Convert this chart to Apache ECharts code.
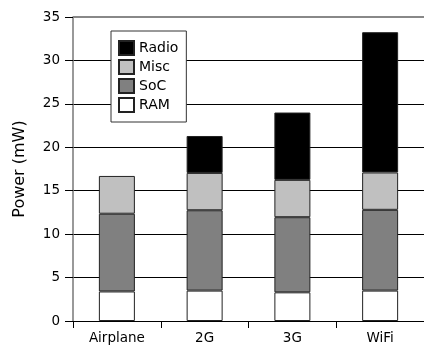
<!DOCTYPE html>
<html><head><meta charset="utf-8">
<script src="https://cdn.jsdelivr.net/npm/echarts@6/dist/echarts.min.js"></script>
<style>html,body{margin:0;padding:0;background:#fff}#c{width:424px;height:345px}</style>
</head><body><div id="c"></div>
<script>
const categories = ['Airplane', '2G', '3G', 'WiFi'];
const ram   = [3.4, 3.5, 3.3, 3.5];
const soc   = [8.95, 9.25, 8.65, 9.3];
const misc  = [4.35, 4.3, 4.3, 4.3];
const radio = [null, 4.25, 7.75, 16.15];
const yTicks = [0, 5, 10, 15, 20, 25, 30, 35];
const yMax = 35;

const font = 'DejaVu Sans';
const chart = echarts.init(document.getElementById('c'), null, {renderer: 'canvas'});
function s(name, data, color) {
  return {name, type: 'bar', stack: 'p', data, barWidth: 36,
    itemStyle: {color, borderColor: '#222', borderWidth: 1}};
}
const series = [s('RAM', ram, '#fff'), s('SoC', soc, '#808080'), s('Misc', misc, '#c0c0c0'), s('Radio', radio, '#000')];
series[3].markLine = {silent: true, symbol: 'none', label: {show: false},
  lineStyle: {color: '#888', type: 'solid', width: 2}, data: [{yAxis: yMax}]};
chart.setOption({
  animation: false,
  grid: {left: 73, right: 0, top: 17, bottom: 24},
  legend: {
    data: ['Radio', 'Misc', 'SoC', 'RAM'], orient: 'vertical',
    left: 111, top: 31, itemWidth: 15, itemHeight: 14, itemGap: 3, itemTextGap: 6,
    padding: [9, 8, 9, 7], borderColor: '#333', borderWidth: 1, backgroundColor: '#fff',
    textStyle: {fontFamily: font, fontSize: 14, color: '#000'}, icon: 'rect'
  },
  xAxis: {
    type: 'category', data: categories,
    axisLine: {lineStyle: {color: '#000', width: 1}},
    axisTick: {show: true, length: 7, lineStyle: {color: '#000'}},
    axisLabel: {fontFamily: font, fontSize: 13.5, color: '#000', margin: 10}
  },
  yAxis: {
    type: 'value', min: 0, max: yMax, interval: 5,
    name: 'Power (mW)', nameLocation: 'middle', nameGap: 45,
    nameTextStyle: {fontFamily: font, fontSize: 16, color: '#000'},
    axisLine: {show: true, lineStyle: {color: '#777', width: 1.5}},
    axisTick: {show: true, length: 8, lineStyle: {color: '#000'}},
    axisLabel: {fontFamily: font, fontSize: 13.5, color: '#000', margin: 13,
      formatter: v => yTicks.includes(v) ? String(v) : ''},
    splitLine: {show: true, showMaxLine: false, lineStyle: {color: '#000', width: 1}}
  },
  series
});
</script></body></html>
